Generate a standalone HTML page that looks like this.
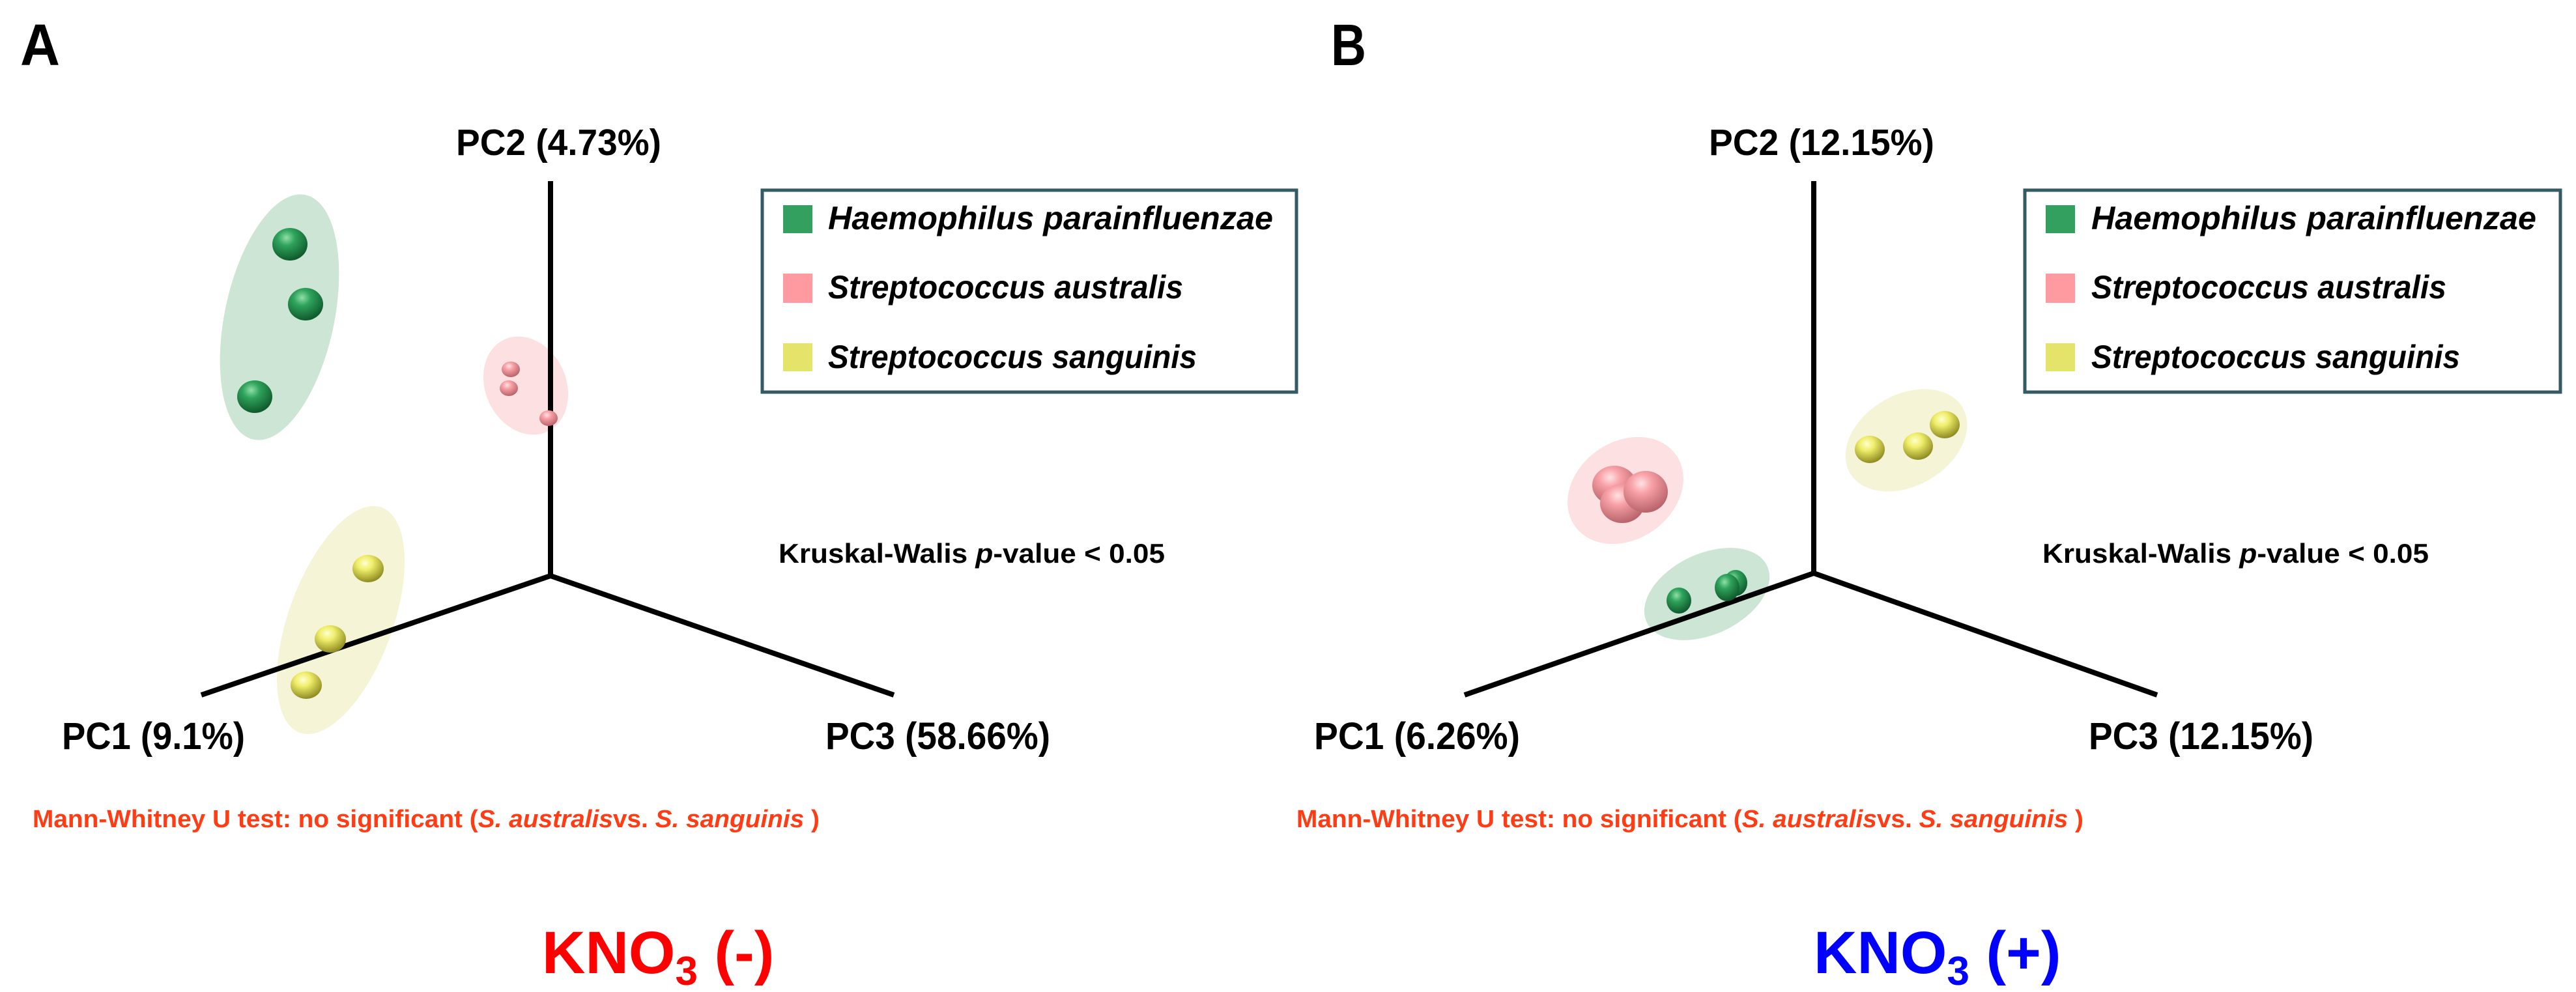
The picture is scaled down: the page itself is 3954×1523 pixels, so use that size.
<!DOCTYPE html>
<html><head><meta charset="utf-8"><style>
html,body{margin:0;padding:0;background:#fff;}
svg{display:block;}
text{font-family:"Liberation Sans",sans-serif;font-weight:bold;}
</style></head><body>
<svg width="3954" height="1523" viewBox="0 0 3954 1523" xmlns="http://www.w3.org/2000/svg">
<defs>
<radialGradient id="gG" cx="40%" cy="30%" r="70%"><stop offset="0" stop-color="#8fe0a8"/><stop offset="0.35" stop-color="#2fa35c"/><stop offset="1" stop-color="#0f5a2c"/></radialGradient>
<radialGradient id="gP" cx="40%" cy="30%" r="70%"><stop offset="0" stop-color="#ffe2e4"/><stop offset="0.35" stop-color="#f7a0a6"/><stop offset="1" stop-color="#b8646a"/></radialGradient>
<radialGradient id="gY" cx="40%" cy="30%" r="70%"><stop offset="0" stop-color="#ffffd0"/><stop offset="0.35" stop-color="#f0ee6a"/><stop offset="1" stop-color="#8f8c22"/></radialGradient>
</defs>

<!-- Panel A -->
<text x="31" y="100" font-size="90" textLength="61" lengthAdjust="spacingAndGlyphs">A</text>
<text x="700" y="238" font-size="57" textLength="315" lengthAdjust="spacingAndGlyphs">PC2 (4.73%)</text>

<ellipse cx="429" cy="487" rx="84" ry="192" transform="rotate(12 429 487)" fill="#cce5d5"/>
<ellipse cx="807" cy="592" rx="62" ry="78" transform="rotate(-25 807 592)" fill="#fde1e2"/>
<ellipse cx="523" cy="952" rx="80" ry="184" transform="rotate(20 523 952)" fill="#f5f4d6"/>

<line x1="845" y1="278" x2="845" y2="884" stroke="#000" stroke-width="8"/>
<polyline points="309,1067 845,884 1372,1067" fill="none" stroke="#000" stroke-width="8" stroke-linejoin="miter"/>

<ellipse cx="445" cy="375" rx="27" ry="25" fill="url(#gG)"/>
<ellipse cx="469" cy="467" rx="27" ry="25" fill="url(#gG)"/>
<ellipse cx="391" cy="609" rx="27" ry="25" fill="url(#gG)"/>
<ellipse cx="784" cy="567" rx="14" ry="12" fill="url(#gP)"/>
<ellipse cx="781" cy="596" rx="14" ry="12" fill="url(#gP)"/>
<ellipse cx="842" cy="642" rx="14" ry="12" fill="url(#gP)"/>
<ellipse cx="565" cy="873" rx="24" ry="21" fill="url(#gY)"/>
<ellipse cx="507" cy="981" rx="24" ry="21" fill="url(#gY)"/>
<ellipse cx="470" cy="1052" rx="24" ry="21" fill="url(#gY)"/>

<text x="95" y="1150" font-size="58" textLength="281" lengthAdjust="spacingAndGlyphs">PC1 (9.1%)</text>
<text x="1267" y="1150" font-size="58" textLength="345" lengthAdjust="spacingAndGlyphs">PC3 (58.66%)</text>

<rect x="1170" y="292" width="820" height="310" fill="#fff" stroke="#345a66" stroke-width="5"/>
<rect x="1202" y="315" width="45" height="43" fill="#33a060"/>
<rect x="1202" y="420" width="45" height="45" fill="#ff9aa0"/>
<rect x="1202" y="527" width="45" height="43" fill="#e4e46a"/>
<text x="1271" y="352" font-size="50" font-style="italic" textLength="683" lengthAdjust="spacingAndGlyphs">Haemophilus parainfluenzae</text>
<text x="1271" y="458" font-size="50" font-style="italic" textLength="545" lengthAdjust="spacingAndGlyphs">Streptococcus australis</text>
<text x="1271" y="565" font-size="50" font-style="italic" textLength="566" lengthAdjust="spacingAndGlyphs">Streptococcus sanguinis</text>

<text x="1195" y="864" font-size="42" textLength="593" lengthAdjust="spacingAndGlyphs">Kruskal-Walis <tspan font-style="italic">p</tspan>-value &lt; 0.05</text>
<text x="50" y="1270" font-size="38" fill="#ff3c14" textLength="1208" lengthAdjust="spacingAndGlyphs">Mann-Whitney U test: no significant (<tspan font-style="italic">S. australis</tspan>vs. <tspan font-style="italic">S. sanguinis</tspan> )</text>
<text x="832" y="1494" font-size="92" fill="#ff0000">KNO<tspan font-size="62" dy="18">3</tspan><tspan dy="-18"> (-)</tspan></text>

<!-- Panel B -->
<text x="2043" y="100" font-size="90" textLength="54" lengthAdjust="spacingAndGlyphs">B</text>
<text x="2623" y="238" font-size="57" textLength="346" lengthAdjust="spacingAndGlyphs">PC2 (12.15%)</text>

<ellipse cx="2495" cy="753" rx="95" ry="75" transform="rotate(-35 2495 753)" fill="#fde1e2"/>
<ellipse cx="2926" cy="676" rx="100" ry="70" transform="rotate(-30 2926 676)" fill="#f5f4d6"/>
<ellipse cx="2620" cy="912" rx="102" ry="62" transform="rotate(-25 2620 912)" fill="#cce5d5"/>

<line x1="2784" y1="278" x2="2784" y2="880" stroke="#000" stroke-width="8"/>
<polyline points="2248,1067 2784,880 3311,1067" fill="none" stroke="#000" stroke-width="8"/>

<ellipse cx="2478" cy="745" rx="34" ry="30" fill="url(#gP)"/>
<ellipse cx="2490" cy="773" rx="34" ry="30" fill="url(#gP)"/>
<ellipse cx="2526" cy="755" rx="34" ry="32" fill="url(#gP)"/>
<ellipse cx="2870" cy="690" rx="23" ry="21" fill="url(#gY)"/>
<ellipse cx="2944" cy="685" rx="23" ry="21" fill="url(#gY)"/>
<ellipse cx="2985" cy="652" rx="23" ry="21" fill="url(#gY)"/>
<ellipse cx="2577" cy="922" rx="19" ry="20" fill="url(#gG)"/>
<ellipse cx="2664" cy="895" rx="18" ry="20" fill="url(#gG)"/>
<ellipse cx="2651" cy="902" rx="19" ry="21" fill="url(#gG)"/>

<text x="2017" y="1150" font-size="58" textLength="316" lengthAdjust="spacingAndGlyphs">PC1 (6.26%)</text>
<text x="3206" y="1150" font-size="58" textLength="345" lengthAdjust="spacingAndGlyphs">PC3 (12.15%)</text>

<rect x="3108" y="292" width="822" height="310" fill="#fff" stroke="#345a66" stroke-width="5"/>
<rect x="3140" y="315" width="45" height="43" fill="#33a060"/>
<rect x="3140" y="420" width="45" height="45" fill="#ff9aa0"/>
<rect x="3140" y="527" width="45" height="43" fill="#e4e46a"/>
<text x="3210" y="352" font-size="50" font-style="italic" textLength="683" lengthAdjust="spacingAndGlyphs">Haemophilus parainfluenzae</text>
<text x="3210" y="458" font-size="50" font-style="italic" textLength="545" lengthAdjust="spacingAndGlyphs">Streptococcus australis</text>
<text x="3210" y="565" font-size="50" font-style="italic" textLength="566" lengthAdjust="spacingAndGlyphs">Streptococcus sanguinis</text>

<text x="3135" y="864" font-size="42" textLength="593" lengthAdjust="spacingAndGlyphs">Kruskal-Walis <tspan font-style="italic">p</tspan>-value &lt; 0.05</text>
<text x="1990" y="1270" font-size="38" fill="#ff3c14" textLength="1208" lengthAdjust="spacingAndGlyphs">Mann-Whitney U test: no significant (<tspan font-style="italic">S. australis</tspan>vs. <tspan font-style="italic">S. sanguinis</tspan> )</text>
<text x="2784" y="1494" font-size="92" fill="#0000ff">KNO<tspan font-size="62" dy="18">3</tspan><tspan dy="-18"> (+)</tspan></text>
</svg>
</body></html>
